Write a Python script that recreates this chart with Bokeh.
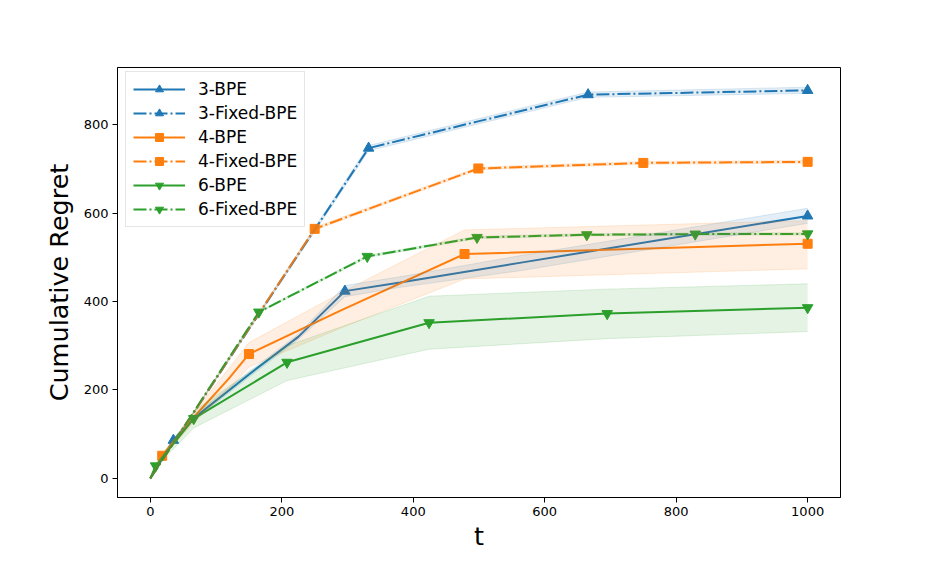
from bokeh.plotting import figure
from bokeh.models import Range1d, ColumnDataSource, Band, Legend, LegendItem, FixedTicker
from bokeh.embed import file_html
from bokeh.resources import INLINE

# ---- data ----
labels = ["3-BPE", "3-Fixed-BPE", "4-BPE", "4-Fixed-BPE", "6-BPE", "6-Fixed-BPE"]

bpe3_t = [0, 35, 66, 150, 225, 296, 380, 564, 1000]
bpe3_mean = [0, 86, 136, 235, 320, 423.5, 443, 488, 593.6]
bpe3_low = [0, 82, 131, 229, 314, 411, 432, 470, 577]
bpe3_high = [0, 90, 141, 241, 326, 436, 456, 504, 611]
bpe3_marks = [1, 5, 8]

fix3_t = [0, 332, 497, 666, 1000]
fix3_mean = [0, 747, 807, 868, 877.7]
fix3_low = [0, 741, 801, 862, 871]
fix3_high = [0, 753, 813, 874, 885]
fix3_marks = [1, 3, 4]

bpe4_t = [0, 18, 66, 119, 150, 290, 478, 1000]
bpe4_mean = [0, 51, 138, 225, 281, 380, 507.5, 530.7]
bpe4_low = [0, 47, 126, 200, 252, 340, 451, 474]
bpe4_high = [0, 55, 148, 248, 307, 420, 562, 583]
bpe4_marks = [1, 4, 6, 7]

fix4_t = [0, 250, 499, 750, 1000]
fix4_mean = [0, 564.4, 701, 713.6, 716]
fix4_low = [0, 561, 698, 710.5, 713]
fix4_high = [0, 568, 704, 717, 719]
fix4_marks = [1, 2, 3, 4]

bpe6_t = [0, 8, 66, 208, 424, 695, 1000]
bpe6_mean = [0, 28, 135, 262.4, 352, 372.6, 386]
bpe6_low = [0, 25, 114, 221, 292, 316, 332]
bpe6_high = [0, 31, 152, 300, 412, 428, 440]
bpe6_marks = [1, 2, 3, 4, 5, 6]

fix6_t = [0, 165, 330, 497, 664, 829, 1000]
fix6_mean = [0, 376, 502, 545, 551, 552.5, 553]
fix6_low = [0, 374, 499.5, 542.5, 548.5, 550, 550.5]
fix6_high = [0, 378, 504.5, 547.5, 553.5, 555, 555.5]
fix6_marks = [1, 2, 3, 4, 5, 6]

x_ticks = [0, 200, 400, 600, 800, 1000]
y_ticks = [0, 200, 400, 600, 800]

BLUE, ORANGE, GREEN = "#1f77b4", "#ff7f0e", "#2ca02c"
FONT = "DejaVu Sans"
DASHDOT = "13 3 2 3"

p = figure(width=918, height=553, output_backend="svg", toolbar_location=None,
           x_range=Range1d(-50, 1050), y_range=Range1d(-43.5, 929.5),
           min_border_left=117, min_border_right=78, min_border_top=67, min_border_bottom=54)
p.background_fill_color = "white"
p.border_fill_color = "white"
p.xgrid.visible = False
p.ygrid.visible = False
p.outline_line_color = "black"
p.outline_line_width = 1
p.outline_line_alpha = 1

for ax in (p.xaxis, p.yaxis):
    ax.axis_line_color = "black"
    ax.major_tick_line_color = "black"
    ax.major_tick_out = 5
    ax.major_tick_in = 0
    ax.minor_tick_line_color = None
    ax.major_label_text_font = FONT
    ax.major_label_text_font_size = "13px"
    ax.major_label_text_color = "black"
    ax.major_label_standoff = 4
    ax.axis_label_text_font = FONT
    ax.axis_label_text_font_size = "25.5px"
    ax.axis_label_text_font_style = "normal"
    ax.axis_label_text_color = "black"

p.xaxis.ticker = FixedTicker(ticks=x_ticks)
p.yaxis.ticker = FixedTicker(ticks=y_ticks)
p.xaxis.axis_label = "t"
p.yaxis.axis_label = "Cumulative Regret"
p.xaxis.axis_label_standoff = 2
p.yaxis.axis_label_standoff = 7

series = [
    (bpe3_t, bpe3_mean, bpe3_low, bpe3_high, bpe3_marks, BLUE, "solid", "triangle", 10.5),
    (fix3_t, fix3_mean, fix3_low, fix3_high, fix3_marks, BLUE, DASHDOT, "triangle", 10.5),
    (bpe4_t, bpe4_mean, bpe4_low, bpe4_high, bpe4_marks, ORANGE, "solid", "square", 9),
    (fix4_t, fix4_mean, fix4_low, fix4_high, fix4_marks, ORANGE, DASHDOT, "square", 9),
    (bpe6_t, bpe6_mean, bpe6_low, bpe6_high, bpe6_marks, GREEN, "solid", "inverted_triangle", 10.5),
    (fix6_t, fix6_mean, fix6_low, fix6_high, fix6_marks, GREEN, DASHDOT, "inverted_triangle", 10.5),
]

items = []
for label, (t, m, lo, hi, marks, color, dash, marker, size) in zip(labels, series):
    src = ColumnDataSource(data=dict(t=t, m=m, lo=lo, hi=hi))
    band = Band(base="t", lower="lo", upper="hi", source=src,
                fill_color=color, fill_alpha=0.12,
                line_color=color, line_alpha=0.15, line_width=1)
    p.add_layout(band)
    lr = p.line("t", "m", source=src, line_color=color, line_width=2, line_dash=dash)
    sr = p.scatter(x=[t[i] for i in marks], y=[m[i] for i in marks], marker=marker,
                   size=size, fill_color=color, line_color=color)
    items.append(LegendItem(label=label, renderers=[lr, sr]))

legend = Legend(items=items, location=(8, 270))
legend.label_text_font = FONT
legend.label_text_font_size = "17px"
legend.label_text_color = "black"
legend.glyph_width = 52
legend.glyph_height = 20
legend.label_height = 20
legend.label_standoff = 13
legend.spacing = 4
legend.padding = 7
legend.margin = 0
legend.border_line_color = "#cccccc"
legend.border_line_width = 1
legend.background_fill_color = "white"
legend.background_fill_alpha = 0.8
p.add_layout(legend)

open("out.html", "w").write(file_html(p, INLINE))
